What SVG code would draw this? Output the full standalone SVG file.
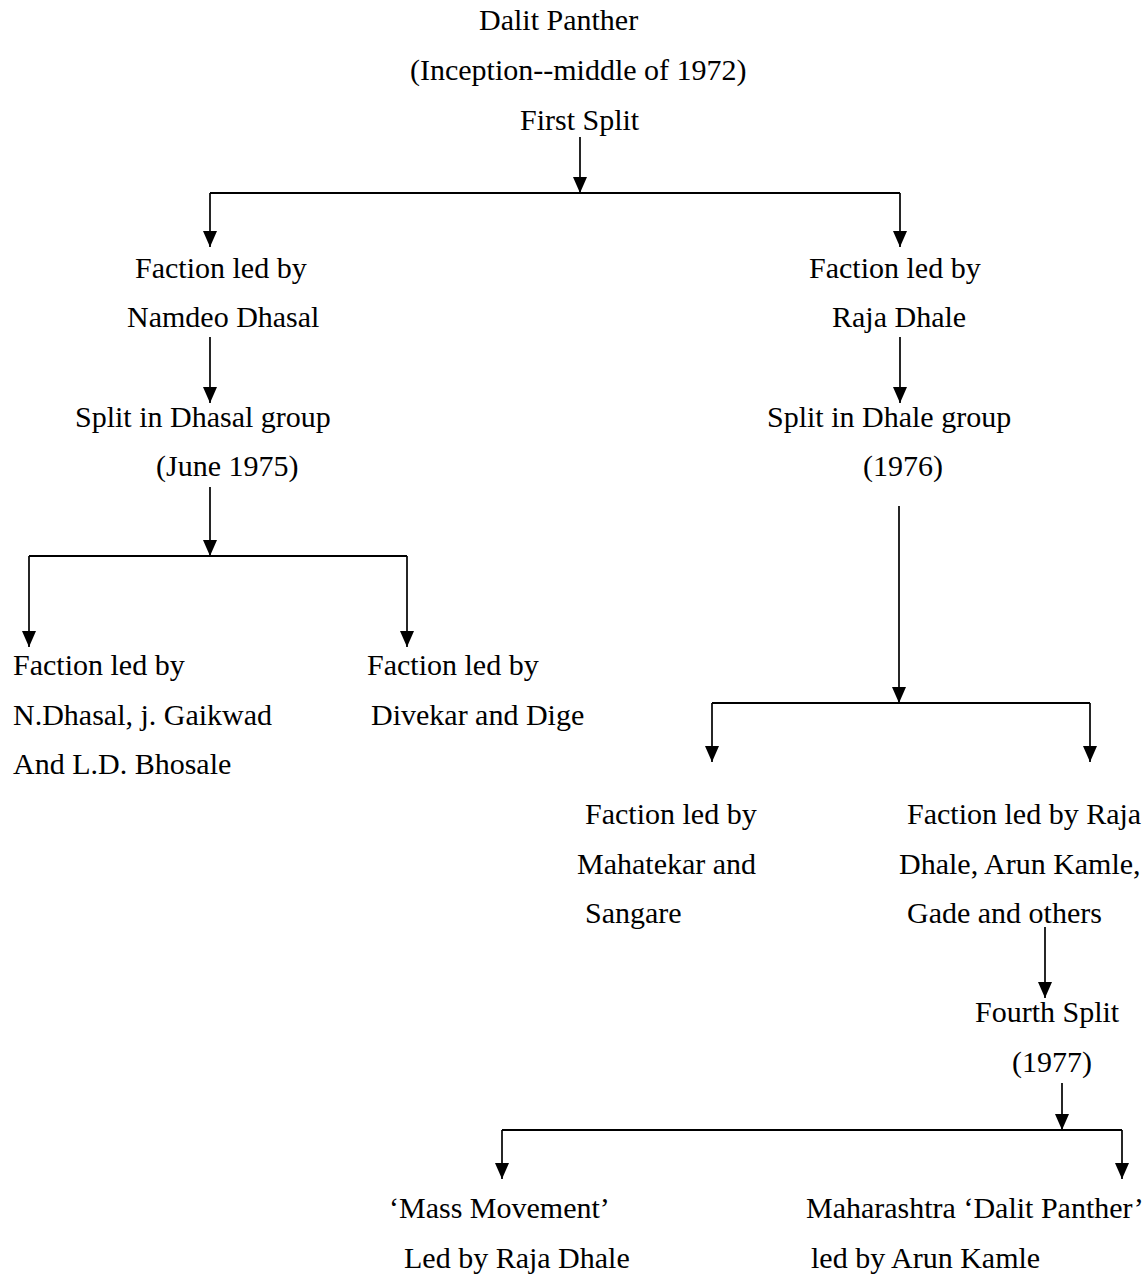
<svg xmlns="http://www.w3.org/2000/svg" width="1148" height="1276" viewBox="0 0 1148 1276">
<style>
text{font-family:"Liberation Serif","Times New Roman",serif;font-size:30px;fill:#000}
.c line,.c path{stroke:#000;stroke-width:1.7;fill:none}
.c .h{stroke-width:2.2}
</style>
<defs>
<marker id="ah" markerUnits="userSpaceOnUse" markerWidth="18" markerHeight="16" refX="16" refY="7" orient="auto">
<path d="M0,0 L16,7 L0,14 z" fill="#000"/>
</marker>
</defs>
<rect width="1148" height="1276" fill="#fff"/>
<g id="n-root">
<text x="479" y="30">Dalit Panther</text>
<text x="410" y="80">(Inception--middle of 1972)</text>
<text x="520" y="130">First Split</text>
</g>
<g id="n-dhasal">
<text x="135" y="278">Faction led by</text>
<text x="127" y="327">Namdeo Dhasal</text>
</g>
<g id="n-dhale">
<text x="809" y="278">Faction led by</text>
<text x="832" y="327">Raja Dhale</text>
</g>
<g id="n-split-dhasal">
<text x="75" y="427">Split in Dhasal group</text>
<text x="156" y="476">(June 1975)</text>
</g>
<g id="n-split-dhale">
<text x="767" y="427">Split in Dhale group</text>
<text x="863" y="476">(1976)</text>
</g>
<g id="n-gaikwad">
<text x="13" y="675">Faction led by</text>
<text x="13" y="725">N.Dhasal, j. Gaikwad</text>
<text x="13" y="774">And L.D. Bhosale</text>
</g>
<g id="n-divekar">
<text x="367" y="675">Faction led by</text>
<text x="371" y="725">Divekar and Dige</text>
</g>
<g id="n-mahatekar">
<text x="585" y="824">Faction led by</text>
<text x="577" y="874">Mahatekar and</text>
<text x="585" y="923">Sangare</text>
</g>
<g id="n-dhale-kamle">
<text x="907" y="824">Faction led by Raja</text>
<text x="899" y="874">Dhale, Arun Kamle,</text>
<text x="907" y="923">Gade and others</text>
</g>
<g id="n-fourth">
<text x="975" y="1022">Fourth Split</text>
<text x="1012" y="1072">(1977)</text>
</g>
<g id="n-mass">
<text x="389" y="1218">‘Mass Movement’</text>
<text x="404" y="1268">Led by Raja Dhale</text>
</g>
<g id="n-maharashtra">
<text x="806" y="1218">Maharashtra ‘Dalit Panther’</text>
<text x="811" y="1268">led by Arun Kamle</text>
</g>
<g id="connectors" class="c">
<line x1="580" y1="137" x2="580" y2="193" marker-end="url(#ah)"/>
<line class="h" x1="210" y1="193" x2="900" y2="193"/>
<line x1="210" y1="193" x2="210" y2="247" marker-end="url(#ah)"/>
<line x1="900" y1="193" x2="900" y2="247" marker-end="url(#ah)"/>
<line x1="210" y1="337" x2="210" y2="403" marker-end="url(#ah)"/>
<line x1="900" y1="337" x2="900" y2="403" marker-end="url(#ah)"/>
<line x1="210" y1="487" x2="210" y2="556" marker-end="url(#ah)"/>
<line class="h" x1="29" y1="556" x2="407" y2="556"/>
<line x1="29" y1="556" x2="29" y2="647" marker-end="url(#ah)"/>
<line x1="407" y1="556" x2="407" y2="647" marker-end="url(#ah)"/>
<line x1="899" y1="506" x2="899" y2="703" marker-end="url(#ah)"/>
<line class="h" x1="712" y1="703" x2="1090" y2="703"/>
<line x1="712" y1="703" x2="712" y2="762" marker-end="url(#ah)"/>
<line x1="1090" y1="703" x2="1090" y2="762" marker-end="url(#ah)"/>
<line x1="1045" y1="927" x2="1045" y2="998" marker-end="url(#ah)"/>
<line x1="1062" y1="1083" x2="1062" y2="1130" marker-end="url(#ah)"/>
<line class="h" x1="502" y1="1130" x2="1122" y2="1130"/>
<line x1="502" y1="1130" x2="502" y2="1179" marker-end="url(#ah)"/>
<line x1="1122" y1="1130" x2="1122" y2="1179" marker-end="url(#ah)"/>
</g>
</svg>
